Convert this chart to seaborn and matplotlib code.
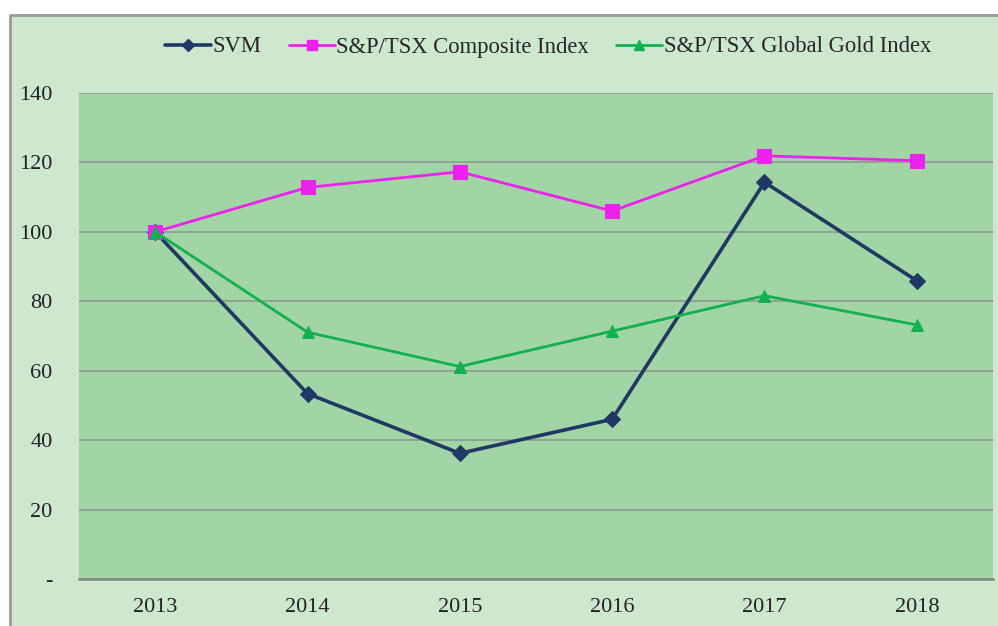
import pandas as pd
import matplotlib.pyplot as plt
from matplotlib.patches import Rectangle
from matplotlib.lines import Line2D
import seaborn as sns

# Datos
years = ['2013', '2014', '2015', '2016', '2017', '2018']
svm = [100, 53.4, 36.2, 46.0, 114.3, 85.9]
composite = [100, 112.8, 117.3, 106.0, 121.9, 120.5]
gold = [100, 71.1, 61.2, 71.4, 81.6, 73.2]
y_ticks = [0, 20, 40, 60, 80, 100, 120, 140]
y_labels = ['-', '20', '40', '60', '80', '100', '120', '140']

series = [
    ('SVM', svm, '#1f3864', 'D', 8, 2.6),
    ('S&P/TSX Composite Index', composite, '#ee22ee', 's', 10, 2.0),
    ('S&P/TSX Global Gold Index', gold, '#12b050', '^', 9, 2.0),
]

sns.set_style('white')
plt.rcParams['font.family'] = ['Liberation Serif', 'DejaVu Serif']

fig = plt.figure(figsize=(9.98, 6.26), dpi=100, facecolor='white')

# Marco exterior verde claro (solo bordes izquierdo y superior visibles)
x0, y0 = 10 / 998, 1 - 15 / 626
fig.patches.append(Rectangle((x0, 0), 1 - x0, y0, transform=fig.transFigure,
                             facecolor='#cde8cf', edgecolor='none', zorder=-10))
fig.lines.append(Line2D([x0, x0, 1], [0, y0, y0], transform=fig.transFigure,
                        color='#9a9a9a', linewidth=2, zorder=-9))

ax = fig.add_axes([79 / 998, 1 - 579 / 626, (993 - 79) / 998, (579 - 93) / 626])
ax.set_zorder(1)
ax.set_facecolor('#a2d5a5')

handles = []
for name, vals, color, marker, ms, lw in series:
    df = pd.DataFrame({'year': years, 'value': vals})
    sns.lineplot(data=df, x='year', y='value', ax=ax, color=color, marker=marker,
                 markersize=ms, linewidth=lw, markeredgecolor=color, zorder=3)
    handles.append(Line2D([0], [0], color=color, marker=marker, markersize=ms * 0.75,
                          linewidth=lw, label=name))

ax.set_xlim(-0.5, len(years) - 0.5)
ax.set_ylim(0, 140)
ax.set_yticks(y_ticks)
ax.set_yticklabels(y_labels)
ax.yaxis.grid(True, color='#8f9a8f', linewidth=1.2)
ax.set_axisbelow(True)
ax.set_xlabel('')
ax.set_ylabel('')
ax.tick_params(axis='y', length=0, pad=19, labelsize=16, colors='#222222')
ax.tick_params(axis='x', length=0, pad=14, labelsize=16, colors='#222222')

for side in ['left', 'right', 'top']:
    ax.spines[side].set_visible(False)
ax.spines['bottom'].set_color('#7f8c7f')
ax.spines['bottom'].set_linewidth(1.8)

leg = fig.legend(handles=handles, loc='center', bbox_to_anchor=(0.549, 1 - 47 / 626),
                 ncol=3, frameon=False, fontsize=16.3, handlelength=2.05,
                 handletextpad=0.05, columnspacing=1.2)
leg.set_zorder(5)

fig.savefig('out.png', dpi=100, facecolor=fig.get_facecolor())
